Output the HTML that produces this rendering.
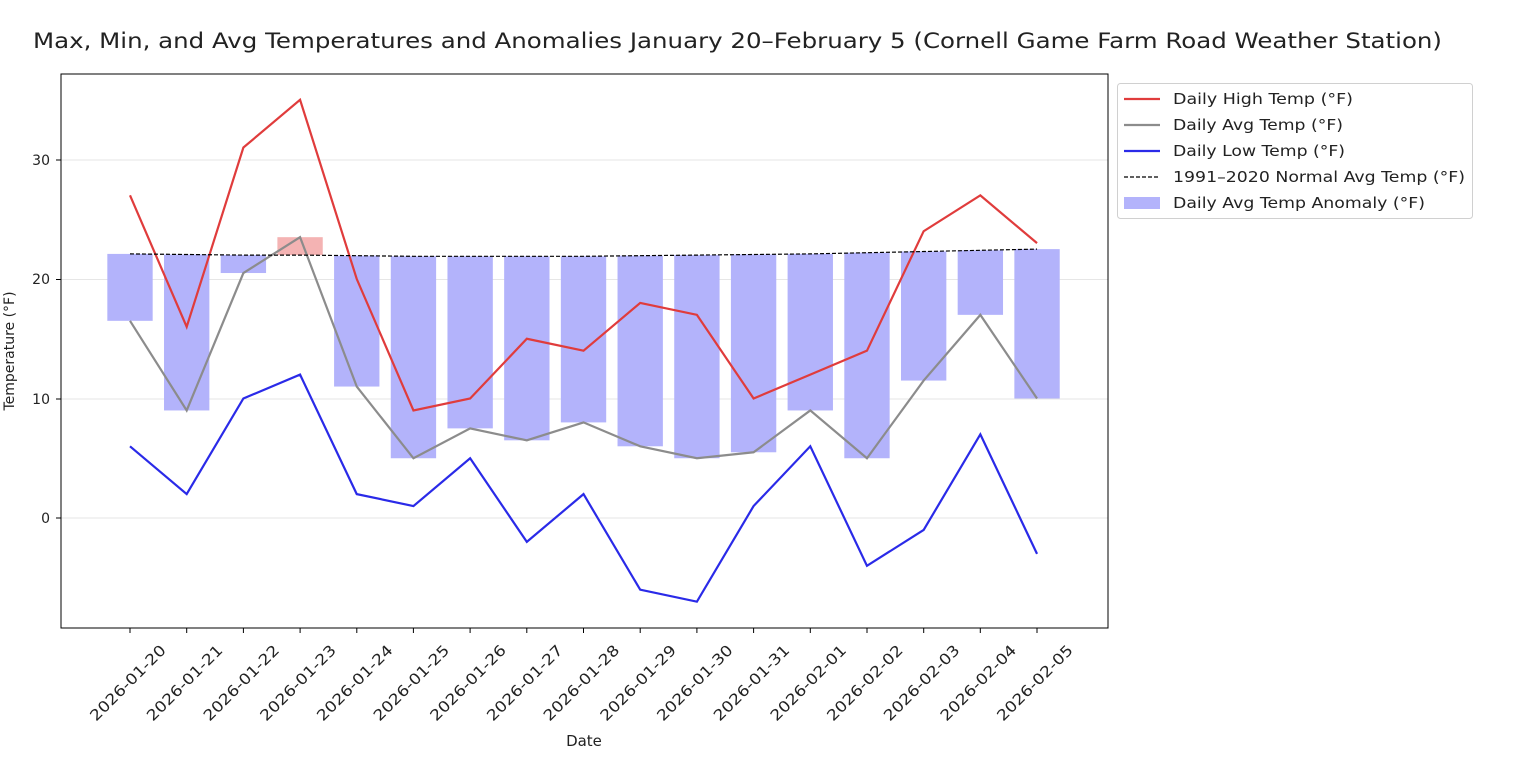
<!DOCTYPE html>
<html><head><meta charset="utf-8"><style>
html,body{margin:0;padding:0;background:#fff;}
svg{display:block;font-family:"DejaVu Sans","Liberation Sans",sans-serif;}
</style></head><body>
<svg width="1540" height="764" viewBox="0 0 1540 764" xmlns="http://www.w3.org/2000/svg">
<rect width="1540" height="764" fill="#fff"/>
<text x="33" y="48" font-size="21" fill="#222" textLength="1409" lengthAdjust="spacingAndGlyphs">Max, Min, and Avg Temperatures and Anomalies January 20–February 5 (Cornell Game Farm Road Weather Station)</text>
<g stroke="#e6e6e6" stroke-width="1">
<line x1="61" x2="1108" y1="160" y2="160"/>
<line x1="61" x2="1108" y1="279.5" y2="279.5"/>
<line x1="61" x2="1108" y1="399" y2="399"/>
<line x1="61" x2="1108" y1="518" y2="518"/>
</g>
<g transform="translate(130,518) scale(56.69,-11.95)">
<g fill="#b3b3fb">
<rect x="-0.4" width="0.8" y="16.5" height="5.6"/>
<rect x="0.6" width="0.8" y="9" height="13.05"/>
<rect x="1.6" width="0.8" y="20.5" height="1.5"/>
<rect x="3.6" width="0.8" y="11" height="10.95"/>
<rect x="4.6" width="0.8" y="5" height="16.9"/>
<rect x="5.6" width="0.8" y="7.5" height="14.4"/>
<rect x="6.6" width="0.8" y="6.5" height="15.4"/>
<rect x="7.6" width="0.8" y="8" height="13.9"/>
<rect x="8.6" width="0.8" y="6" height="15.95"/>
<rect x="9.6" width="0.8" y="5" height="17"/>
<rect x="10.6" width="0.8" y="5.5" height="16.55"/>
<rect x="11.6" width="0.8" y="9" height="13.1"/>
<rect x="12.6" width="0.8" y="5" height="17.2"/>
<rect x="13.6" width="0.8" y="11.5" height="10.8"/>
<rect x="14.6" width="0.8" y="17" height="5.4"/>
<rect x="15.6" width="0.8" y="10" height="12.5"/>
</g>
<rect x="2.6" width="0.8" y="22" height="1.5" fill="#f4b3b3"/>
<g fill="none">
<polyline vector-effect="non-scaling-stroke" stroke="#e03c3c" stroke-width="2.2" points="0,27 1,16 2,31 3,35 4,20 5,9 6,10 7,15 8,14 9,18 10,17 11,10 12,12 13,14 14,24 15,27 16,23"/>
<polyline vector-effect="non-scaling-stroke" stroke="#8c8c8c" stroke-width="2.2" points="0,16.5 1,9 2,20.5 3,23.5 4,11 5,5 6,7.5 7,6.5 8,8 9,6 10,5 11,5.5 12,9 13,5 14,11.5 15,17 16,10"/>
<polyline vector-effect="non-scaling-stroke" stroke="#2a2ae8" stroke-width="2.2" points="0,6 1,2 2,10 3,12 4,2 5,1 6,5 7,-2 8,2 9,-6 10,-7 11,1 12,6 13,-4 14,-1 15,7 16,-3"/>
<polyline vector-effect="non-scaling-stroke" stroke="#000" stroke-width="1.2" stroke-dasharray="4,2" points="0,22.1 1,22.05 2,22 3,22 4,21.95 5,21.9 6,21.9 7,21.9 8,21.9 9,21.95 10,22 11,22.05 12,22.1 13,22.2 14,22.3 15,22.4 16,22.5"/>
</g>
</g>
<rect x="61" y="74" width="1047" height="554" fill="none" stroke="#000" stroke-width="1"/>
<g stroke="#000"><line x1="56" x2="61" y1="160" y2="160"/><line x1="56" x2="61" y1="279.5" y2="279.5"/><line x1="56" x2="61" y1="399" y2="399"/><line x1="56" x2="61" y1="518" y2="518"/></g>
<g font-size="14" fill="#222" text-anchor="end">
<text x="50" y="165">30</text><text x="50" y="284">20</text><text x="50" y="404">10</text><text x="50" y="523">0</text>
</g>
<text transform="translate(14,351) rotate(-90)" font-size="14" text-anchor="middle" fill="#222">Temperature (°F)</text>
<g stroke="#000">
<line x1="130" x2="130" y1="628" y2="633"/><line x1="186.7" x2="186.7" y1="628" y2="633"/><line x1="243.4" x2="243.4" y1="628" y2="633"/><line x1="300.1" x2="300.1" y1="628" y2="633"/><line x1="356.8" x2="356.8" y1="628" y2="633"/><line x1="413.4" x2="413.4" y1="628" y2="633"/><line x1="470.1" x2="470.1" y1="628" y2="633"/><line x1="526.8" x2="526.8" y1="628" y2="633"/><line x1="583.5" x2="583.5" y1="628" y2="633"/><line x1="640.2" x2="640.2" y1="628" y2="633"/><line x1="696.9" x2="696.9" y1="628" y2="633"/><line x1="753.6" x2="753.6" y1="628" y2="633"/><line x1="810.3" x2="810.3" y1="628" y2="633"/><line x1="867" x2="867" y1="628" y2="633"/><line x1="923.7" x2="923.7" y1="628" y2="633"/><line x1="980.3" x2="980.3" y1="628" y2="633"/><line x1="1037" x2="1037" y1="628" y2="633"/>
</g>
<g font-size="15" fill="#222" text-anchor="middle">
<text transform="translate(128,683) rotate(-45)" y="5" textLength="100" lengthAdjust="spacingAndGlyphs">2026-01-20</text>
<text transform="translate(184.7,683) rotate(-45)" y="5" textLength="100" lengthAdjust="spacingAndGlyphs">2026-01-21</text>
<text transform="translate(241.4,683) rotate(-45)" y="5" textLength="100" lengthAdjust="spacingAndGlyphs">2026-01-22</text>
<text transform="translate(298.1,683) rotate(-45)" y="5" textLength="100" lengthAdjust="spacingAndGlyphs">2026-01-23</text>
<text transform="translate(354.8,683) rotate(-45)" y="5" textLength="100" lengthAdjust="spacingAndGlyphs">2026-01-24</text>
<text transform="translate(411.4,683) rotate(-45)" y="5" textLength="100" lengthAdjust="spacingAndGlyphs">2026-01-25</text>
<text transform="translate(468.1,683) rotate(-45)" y="5" textLength="100" lengthAdjust="spacingAndGlyphs">2026-01-26</text>
<text transform="translate(524.8,683) rotate(-45)" y="5" textLength="100" lengthAdjust="spacingAndGlyphs">2026-01-27</text>
<text transform="translate(581.5,683) rotate(-45)" y="5" textLength="100" lengthAdjust="spacingAndGlyphs">2026-01-28</text>
<text transform="translate(638.2,683) rotate(-45)" y="5" textLength="100" lengthAdjust="spacingAndGlyphs">2026-01-29</text>
<text transform="translate(694.9,683) rotate(-45)" y="5" textLength="100" lengthAdjust="spacingAndGlyphs">2026-01-30</text>
<text transform="translate(751.6,683) rotate(-45)" y="5" textLength="100" lengthAdjust="spacingAndGlyphs">2026-01-31</text>
<text transform="translate(808.3,683) rotate(-45)" y="5" textLength="100" lengthAdjust="spacingAndGlyphs">2026-02-01</text>
<text transform="translate(865,683) rotate(-45)" y="5" textLength="100" lengthAdjust="spacingAndGlyphs">2026-02-02</text>
<text transform="translate(921.7,683) rotate(-45)" y="5" textLength="100" lengthAdjust="spacingAndGlyphs">2026-02-03</text>
<text transform="translate(978.3,683) rotate(-45)" y="5" textLength="100" lengthAdjust="spacingAndGlyphs">2026-02-04</text>
<text transform="translate(1035,683) rotate(-45)" y="5" textLength="100" lengthAdjust="spacingAndGlyphs">2026-02-05</text>
</g>
<text x="584" y="746" font-size="15" text-anchor="middle" fill="#222">Date</text>
<rect x="1117.5" y="83.5" width="355" height="135" rx="3" fill="#fff" stroke="#d0d0d0"/>
<line x1="1124" x2="1160" y1="99" y2="99" stroke="#e03c3c" stroke-width="2.2"/>
<line x1="1124" x2="1160" y1="125" y2="125" stroke="#8c8c8c" stroke-width="2.2"/>
<line x1="1124" x2="1160" y1="151" y2="151" stroke="#2a2ae8" stroke-width="2.2"/>
<line x1="1124" x2="1160" y1="177" y2="177" stroke="#000" stroke-width="1.2" stroke-dasharray="4,2"/>
<rect x="1124" y="197" width="36" height="12" fill="#b3b3fb"/>
<g font-size="15" fill="#222">
<text x="1173" y="104" textLength="180" lengthAdjust="spacingAndGlyphs">Daily High Temp (°F)</text>
<text x="1173" y="130" textLength="170" lengthAdjust="spacingAndGlyphs">Daily Avg Temp (°F)</text>
<text x="1173" y="156" textLength="172" lengthAdjust="spacingAndGlyphs">Daily Low Temp (°F)</text>
<text x="1173" y="182" textLength="292" lengthAdjust="spacingAndGlyphs">1991–2020 Normal Avg Temp (°F)</text>
<text x="1173" y="208" textLength="252" lengthAdjust="spacingAndGlyphs">Daily Avg Temp Anomaly (°F)</text>
</g>
</svg>
</body></html>
